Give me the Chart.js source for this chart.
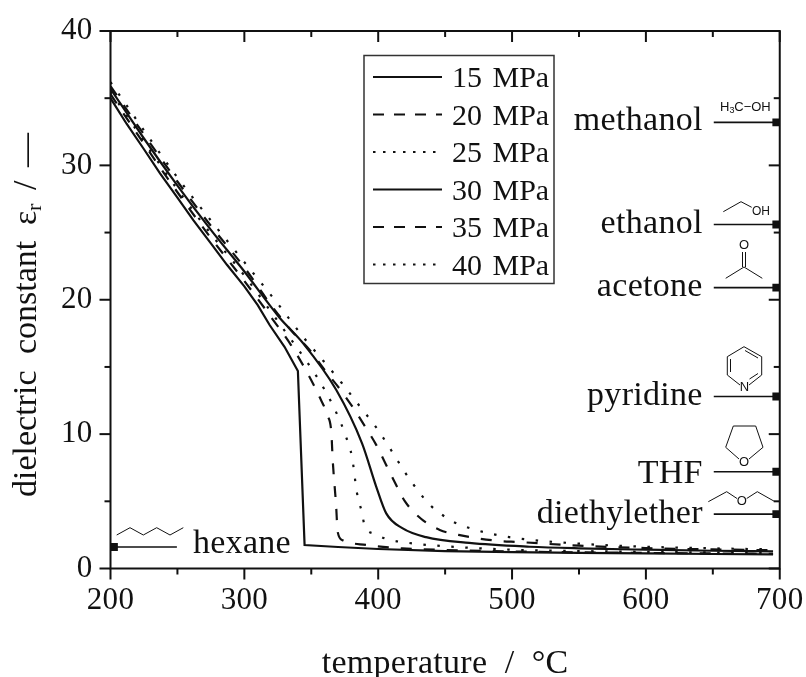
<!DOCTYPE html>
<html>
<head>
<meta charset="utf-8">
<style>
    html, body { margin: 0; padding: 0; background: #fff; }
    canvas { display: block; }
</style>
<script src="https://cdn.jsdelivr.net/npm/chart.js@4/dist/chart.umd.min.js"></script>
</head>
<body>
<canvas id="chart-test" width="806" height="677"></canvas>
<script>
const seriesNames = ['15 MPa', '20 MPa', '25 MPa', '30 MPa', '35 MPa', '40 MPa']

const temp15 = [200, 212, 225, 237, 250, 262, 275, 287, 300, 310, 319, 330, 340, 345, 370, 400, 450, 500, 550, 600, 650, 695]
const eps15 = [35.0, 33.1, 31.2, 29.4, 27.6, 25.9, 24.2, 22.6, 21.0, 19.6, 18.1, 16.5, 14.7, 1.75, 1.6, 1.45, 1.3, 1.22, 1.16, 1.12, 1.08, 1.05]

const temp20 = [200, 225, 250, 275, 300, 320, 335, 349, 356, 362, 365, 366, 368.6, 369.7, 373.5, 391, 418, 450, 500, 550, 600, 650, 695]
const eps20 = [35.3, 31.6, 28.0, 24.6, 21.4, 18.7, 16.6, 14.2, 12.8, 11.4, 10.1, 8.1, 4.6, 2.74, 2.1, 1.75, 1.5, 1.38, 1.27, 1.2, 1.16, 1.12, 1.09]

const temp25 = [200, 225, 250, 275, 300, 325, 350, 360, 368.7, 375.6, 380.6, 384, 388, 389.8, 397.8, 406, 423, 448, 500, 550, 600, 650, 695]
const eps25 = [35.5, 31.8, 28.2, 24.9, 21.8, 18.4, 14.9, 13.3, 11.6, 9.9, 8.2, 5.7, 4.1, 3.2, 2.56, 2.2, 1.9, 1.67, 1.4, 1.3, 1.24, 1.19, 1.15]

const temp30 = [200, 225, 250, 275, 300, 326, 343.6, 368.6, 388, 398.5, 406, 418, 435.8, 468, 513, 550, 600, 650, 695]
const eps30 = [35.7, 32.0, 28.5, 25.2, 22.1, 18.7, 16.8, 13.3, 9.3, 6.1, 4.1, 3.0, 2.33, 1.9, 1.62, 1.5, 1.4, 1.32, 1.27]

const temp35 = [200, 225, 250, 275, 300, 320, 336, 348.8, 360, 371, 381, 390, 398.5, 405.5, 412, 420, 432, 446, 460, 488, 505, 550, 600, 650, 695]
const eps35 = [35.9, 32.3, 28.8, 25.5, 22.4, 19.6, 17.6, 16.26, 14.77, 13.4, 12.0, 10.6, 9.2, 7.8, 6.5, 5.0, 3.7, 2.87, 2.5, 2.07, 1.97, 1.7, 1.52, 1.42, 1.36]

const temp40 = [200, 225, 250, 275, 300, 325, 345, 358.6, 372.8, 386, 398.5, 409.7, 420.4, 432, 439.5, 448, 456, 473, 498, 550, 600, 650, 695]
const eps40 = [36.2, 32.6, 29.1, 25.9, 22.8, 19.7, 17.1, 15.5, 13.8, 12.1, 10.5, 8.8, 7.1, 5.5, 4.65, 3.98, 3.48, 2.87, 2.33, 1.85, 1.62, 1.5, 1.42]

const seriesTemps = [temp15, temp20, temp25, temp30, temp35, temp40]
const seriesEps = [eps15, eps20, eps25, eps30, eps35, eps40]
const seriesDash = [[], [11, 12], [2.5, 11.5], [], [11, 12], [2.5, 11.5]]
const legendDash = [[], [11, 10], [2.5, 7.5], [], [11, 10], [2.5, 7.5]]

const solventNames = ['methanol', 'ethanol', 'acetone', 'pyridine', 'THF', 'diethylether', 'hexane']
const solventEps = [33.2, 25.6, 20.9, 12.8, 7.2, 4.05, 1.6]
const solventTemp = [697.4, 697.4, 697.4, 697.4, 697.4, 697.4, 202.6]
const leaderEnd = [650.7, 650.7, 650.7, 650.7, 650.7, 650.7, 249.6]
const labelDrop = [7.5, 8.5, 8.7, 8.3, 11, 8.7, 6]

const xMajorLabels = [200, 300, 400, 500, 600, 700]
const yMajorLabels = [0, 10, 20, 30, 40]

const serif = '"Liberation Serif", serif'
const ink = '#111'

const datasets = seriesNames.map(function(name, i) {
    return {
        label: name,
        data: seriesTemps[i].map(function(t, j) { return { x: t, y: seriesEps[i][j] } }),
        showLine: true,
        pointRadius: 0,
        borderColor: ink,
        borderWidth: 2.2,
        borderDash: seriesDash[i],
        // 15 MPa has a hard corner at the drop, monotone would round it off
        cubicInterpolationMode: i === 0 ? 'default' : 'monotone',
        tension: 0
    }
})

solventNames.forEach(function(name, i) {
    datasets.push({
        label: name,
        data: [{ x: leaderEnd[i], y: solventEps[i] }, { x: solventTemp[i], y: solventEps[i] }],
        showLine: true,
        borderColor: ink,
        borderWidth: 1.6,
        backgroundColor: ink,
        pointStyle: 'rect',
        pointRadius: [0, 5.5],
        pointBorderWidth: 0
    })
})

function polyline(ctx, pts, close) {
    ctx.beginPath()
    pts.forEach(function(p, i) {
        if (i === 0) ctx.moveTo(p[0], p[1])
        else ctx.lineTo(p[0], p[1])
    })
    if (close) ctx.closePath()
    ctx.stroke()
}

function atomText(ctx, text, x, y, size) {
    ctx.font = (size || 13) + 'px "Liberation Sans", sans-serif'
    ctx.textAlign = 'center'
    ctx.textBaseline = 'middle'
    ctx.fillText(text, x, y)
}

// little structure sketches next to the solvent names
function drawMolecules(ctx) {
    ctx.save()
    ctx.letterSpacing = '0px'
    ctx.wordSpacing = '0px'
    ctx.strokeStyle = ink
    ctx.fillStyle = ink
    ctx.lineWidth = 1

    // methanol
    atomText(ctx, 'H', 724.7, 107)
    atomText(ctx, '3', 732, 111, 9)
    atomText(ctx, 'C\u2212OH', 752.5, 107)

    // ethanol
    polyline(ctx, [[723.3, 211.7], [741, 201.7], [751.7, 207.3]])
    atomText(ctx, 'OH', 761, 212, 12)

    // acetone
    atomText(ctx, 'O', 744, 245.5)
    polyline(ctx, [[742.5, 252], [742.5, 267]])
    polyline(ctx, [[745.5, 252], [745.5, 267]])
    polyline(ctx, [[725.7, 278.3], [744, 267], [762.3, 278.3]])

    // pyridine
    polyline(ctx, [[740, 385], [727.3, 375], [727.3, 356.7], [744, 346.7], [761.7, 356.7], [761.7, 375], [749, 385]])
    polyline(ctx, [[730.5, 372], [730.5, 359]])
    polyline(ctx, [[745, 350.5], [758, 358]])
    polyline(ctx, [[758, 373.5], [749.5, 379]])
    atomText(ctx, 'N', 744.5, 387.5)

    // THF
    polyline(ctx, [[739, 459], [725.7, 447.3], [733.3, 426], [755.7, 426], [763, 447.3], [749, 459]])
    atomText(ctx, 'O', 744, 462.7)

    // diethylether
    polyline(ctx, [[708.3, 501.7], [726.7, 491.7], [737, 498.5]])
    polyline(ctx, [[746.7, 498.5], [757.3, 491.7], [775, 501.7]])
    atomText(ctx, 'O', 741.7, 501.7)

    // hexane
    polyline(ctx, [[116.7, 535], [130, 527.7], [143.3, 535], [156.7, 527.7], [170, 535], [183.3, 527.7]])
    ctx.restore()
}

const framePlugin = {
    id: 'frame',
    beforeDraw(chart) {
        // only the x title has spaces in what chart.js draws itself
        chart.ctx.letterSpacing = '0.3px'
        chart.ctx.wordSpacing = '8.5px'
    },
    afterDraw(chart) {
        const ctx = chart.ctx
        const area = chart.chartArea
        const xs = chart.scales.x
        const ys = chart.scales.y
        ctx.save()
        ctx.strokeStyle = ink
        ctx.fillStyle = ink
        ctx.lineWidth = 2
        ctx.strokeRect(area.left, area.top, area.right - area.left, area.bottom - area.top)

        xs.ticks.forEach(function(t) {
            const len = t.value % 100 === 0 ? 11 : 6
            const px = xs.getPixelForValue(t.value)
            polyline(ctx, [[px, area.bottom], [px, area.bottom + len]])
            polyline(ctx, [[px, area.top], [px, area.top + len]])
        })
        ys.ticks.forEach(function(t) {
            const len = t.value % 10 === 0 ? 11 : 6
            const py = ys.getPixelForValue(t.value)
            polyline(ctx, [[area.left, py], [area.left - len, py]])
            polyline(ctx, [[area.right, py], [area.right - len, py]])
        })

        // solvent names beside their leader lines
        ctx.font = '34px ' + serif
        ctx.textBaseline = 'alphabetic'
        solventNames.forEach(function(name, i) {
            const py = ys.getPixelForValue(solventEps[i]) + labelDrop[i]
            if (name === 'hexane') {
                ctx.textAlign = 'left'
                ctx.fillText(name, xs.getPixelForValue(leaderEnd[i]) + 16, py)
            } else {
                ctx.textAlign = 'right'
                ctx.fillText(name, xs.getPixelForValue(leaderEnd[i]) - 11, py)
            }
        })

        // legend box
        ctx.lineWidth = 1.5
        ctx.strokeStyle = '#333'
        ctx.strokeRect(364, 55.5, 190, 228)
        ctx.strokeStyle = ink
        ctx.font = '30px ' + serif
        ctx.textAlign = 'left'
        ctx.letterSpacing = '0px'
        ctx.wordSpacing = '3px'
        seriesNames.forEach(function(name, i) {
            const py = 77 + i * 37.5
            ctx.save()
            ctx.lineWidth = 2.2
            ctx.setLineDash(legendDash[i])
            polyline(ctx, [[373, py], [442, py]])
            ctx.restore()
            ctx.fillText(name, 452, py + 10)
        })

        // y axis title, has a subscript so it is drawn in pieces
        ctx.save()
        ctx.translate(36, 497)
        ctx.rotate(-Math.PI / 2)
        ctx.textAlign = 'left'
        ctx.wordSpacing = '8px'
        ctx.font = '34px ' + serif
        ctx.fillText('dielectric constant', 0, 0)
        ctx.fillText('\u03b5', 272, 0)
        ctx.font = '22px ' + serif
        ctx.fillText('r', 286, 5)
        ctx.font = '34px ' + serif
        ctx.fillText('/', 307, 0)
        ctx.fillText('\u2014', 330, 0)
        ctx.restore()

        ctx.restore()
        drawMolecules(ctx)
    }
}

const chartNumOne = new Chart(document.getElementById('chart-test').getContext('2d'), {
    type: 'scatter',
    data: { datasets: datasets },
    plugins: [framePlugin],
    options: {
        responsive: false,
        animation: false,
        layout: { padding: { top: 31, right: 25, left: 0, bottom: 0 } },
        plugins: { legend: { display: false }, tooltip: { enabled: false } },
        scales: {
            x: {
                type: 'linear',
                min: 200,
                max: 700,
                afterFit(scale) { scale.height = 108.5 },
                grid: { display: false, tickLength: 11 },
                border: { display: false },
                ticks: {
                    stepSize: 50,
                    maxRotation: 0,
                    autoSkip: false,
                    padding: 3,
                    color: ink,
                    font: { family: serif, size: 31 },
                    callback: function(v) { return xMajorLabels.includes(v) ? String(v) : '' }
                },
                title: {
                    display: true,
                    text: 'temperature / \u00b0C',
                    color: ink,
                    font: { family: serif, size: 34 },
                    padding: { top: 0, bottom: -7 }
                }
            },
            y: {
                min: 0,
                max: 40,
                afterFit(scale) { scale.width = 110.5 },
                grid: { display: false, tickLength: 11 },
                border: { display: false },
                ticks: {
                    stepSize: 5,
                    autoSkip: false,
                    padding: 7,
                    color: ink,
                    font: { family: serif, size: 31 },
                    callback: function(v) { return yMajorLabels.includes(v) ? String(v) : '' }
                }
            }
        }
    }
})
</script>
</body>
</html>
